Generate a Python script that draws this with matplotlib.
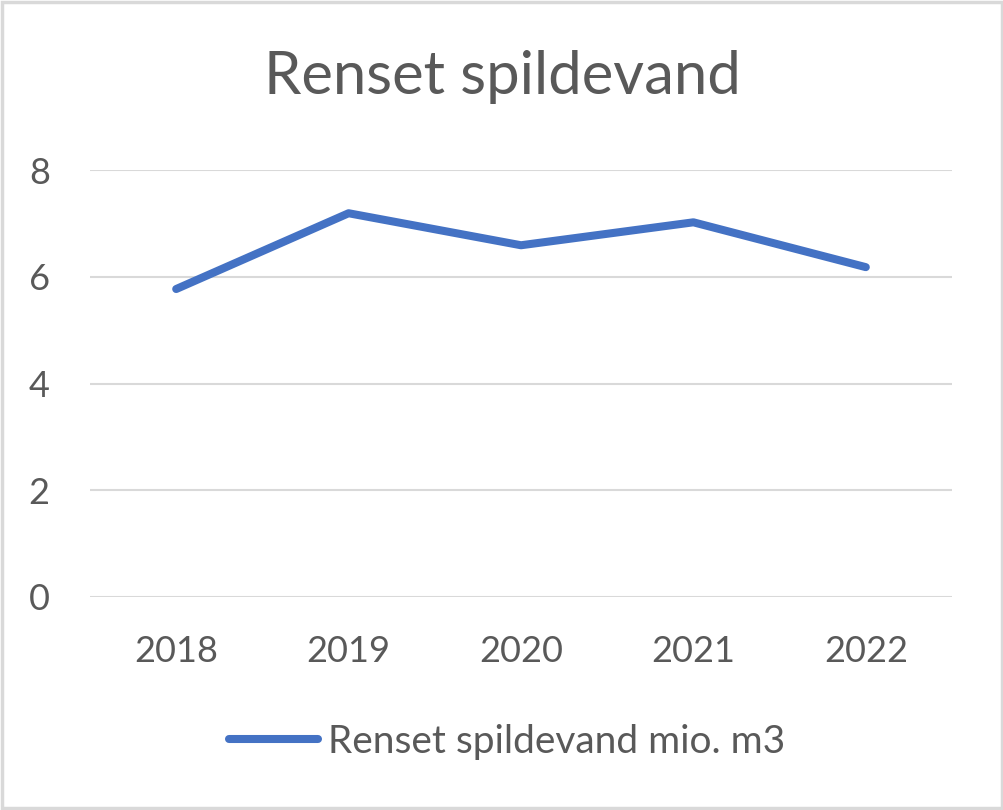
import matplotlib
matplotlib.use("Agg")
import matplotlib.pyplot as plt
from matplotlib.patches import Rectangle

years = ["2018", "2019", "2020", "2021", "2022"]
values = [5.77, 7.19, 6.59, 7.02, 6.18]
series_name = "Renset spildevand mio. m3"
title = "Renset spildevand"
yticks = [0, 2, 4, 6, 8]

plt.rcParams['font.family'] = ['Lato', 'DejaVu Sans']
txt = "#595959"
grid = "#d9d9d9"
blue = "#4472C4"

fig = plt.figure(figsize=(10.04, 8.10), dpi=100)
ax = fig.add_axes([90/1004, 1-597/810, (952-90)/1004, (597-170)/810])

x = list(range(len(years)))
ax.plot(x, values, color=blue, lw=5.8, solid_capstyle='round', solid_joinstyle='round',
        label=series_name, zorder=3)
ax.set_xlim(-0.5, len(years)-0.5)
ax.set_ylim(0, 8)
ax.set_yticks(yticks)
ax.set_yticklabels([str(v) for v in yticks])
ax.set_xticks(x)
ax.set_xticklabels(years)
ax.tick_params(length=0, labelsize=26, colors=txt)
ax.tick_params(axis='y', pad=29)
ax.tick_params(axis='x', pad=27)
for s in ax.spines.values():
    s.set_visible(False)
ax.grid(axis='y', color=grid, lw=1.5, zorder=0)
ax.set_axisbelow(True)

fig.text(0.5, 1-77/810, title, ha='center', va='center', fontsize=43, color=txt)

leg = fig.legend(loc='center', bbox_to_anchor=(0.505, 1-742/810), frameon=False,
                 fontsize=28, labelcolor=txt, handlelength=2.3, handletextpad=0.26)

fig.patches.append(Rectangle((0.0015, 0.002), 0.997, 0.996, transform=fig.transFigure,
                             fill=False, edgecolor=grid, lw=2.5))
fig.savefig("out.png", dpi=100, facecolor='white')
